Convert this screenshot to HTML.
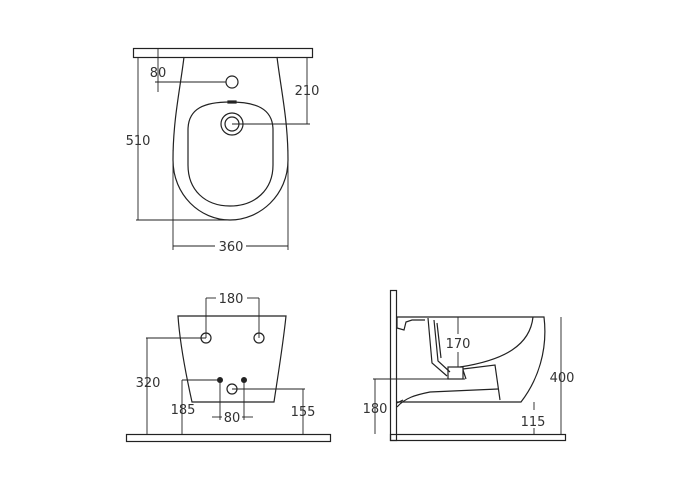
<!DOCTYPE html>
<html><head><style>
html,body{margin:0;padding:0;background:#fff;}
svg{display:block;}
text{font-family:"DejaVu Sans","Liberation Sans",sans-serif;font-size:13px;fill:#333;}
</style></head><body>
<svg width="700" height="500" viewBox="0 0 700 500" xmlns="http://www.w3.org/2000/svg">
<g fill="none" stroke="#222" stroke-width="1.2">
<!-- TOP VIEW -->
<rect x="133.5" y="48.5" width="179" height="9"/>
<path d="M184,57 C180,90 173,120 173,160 C173,195 200,220 230,220 C260,220 288,195 288,160 C288,120 281,90 277,57"/>
<path d="M188,130 C188,108 205,102 230,102 C255,102 273,108 273,130 L273,165 C273,190 255,206 230,206 C205,206 188,190 188,165 Z"/>
<circle cx="232" cy="82" r="6"/>
<circle cx="232" cy="124" r="11"/>
<circle cx="232" cy="124" r="7"/>
<rect x="228" y="101" width="8" height="2"/>
<g stroke-width="0.9">
<line x1="138" y1="57" x2="138" y2="220"/>
<line x1="136" y1="220" x2="232" y2="220"/>
<line x1="158" y1="48" x2="158" y2="92"/>
<line x1="155" y1="82" x2="226" y2="82"/>
<line x1="307" y1="57" x2="307" y2="124"/>
<line x1="232" y1="124" x2="310" y2="124"/>
<line x1="173" y1="150" x2="173" y2="250"/>
<line x1="288" y1="150" x2="288" y2="250"/>
<line x1="173" y1="246" x2="215" y2="246"/>
<line x1="246" y1="246" x2="288" y2="246"/>
</g>
<!-- FRONT VIEW -->
<rect x="126.5" y="434.5" width="204" height="7"/>
<path d="M178,316 L286,316 C283,345 278,375 274,402 L192,402 C186,375 180,345 178,316 Z"/>
<circle cx="206" cy="338" r="5"/>
<circle cx="259" cy="338" r="5"/>
<circle cx="232" cy="389" r="5"/>
<g stroke-width="0.9">
<line x1="206" y1="298" x2="206" y2="338"/>
<line x1="259" y1="298" x2="259" y2="338"/>
<line x1="206" y1="298" x2="216" y2="298"/>
<line x1="247" y1="298" x2="259" y2="298"/>
<line x1="147" y1="338" x2="147" y2="434"/>
<line x1="146" y1="338" x2="206" y2="338"/>
<line x1="182" y1="380" x2="182" y2="434"/>
<line x1="182" y1="380" x2="220" y2="380"/>
<line x1="220" y1="380" x2="220" y2="420"/>
<line x1="244" y1="380" x2="244" y2="420"/>
<line x1="212" y1="417" x2="222" y2="417"/>
<line x1="242" y1="417" x2="253" y2="417"/>
<line x1="303" y1="389" x2="303" y2="434"/>
<line x1="232" y1="389" x2="305" y2="389"/>
</g>
<!-- SIDE VIEW -->
<rect x="390.5" y="290.5" width="6" height="150"/>
<rect x="390.5" y="434.5" width="175" height="6"/>
<path d="M397,317 L544,317 C548,350 538,380 521,402 L397,402"/>
<path d="M533,317 C530,345 505,360 460,367"/>
<path d="M397,317 L397,328 L404,330 L406,322 L412,320 L425,320"/>
<path d="M428,318 L432,363 L447,376 M434,320 L438,361 L450,372 M437,323 L441,358"/>
<rect x="448" y="367" width="15" height="12"/>
<path d="M463,370 L466,379 M463,369 L495,365 L500,400"/>
<path d="M397,407 C405,398 415,395 430,392 L498,389"/>
<path d="M397,403 L403,400"/>
<g stroke-width="0.9">
<line x1="561" y1="317" x2="561" y2="434"/>
<line x1="458" y1="317" x2="458" y2="334"/>
<line x1="458" y1="352" x2="458" y2="367"/>
<line x1="375" y1="379" x2="375" y2="434"/>
<line x1="373" y1="379" x2="465" y2="379"/>
<line x1="534" y1="402" x2="534" y2="410"/>
<line x1="534" y1="428" x2="534" y2="434"/>
</g>
</g>
<circle cx="220" cy="380" r="3" fill="#222"/>
<circle cx="244" cy="380" r="3" fill="#222"/>
<g text-anchor="middle">
<text x="158" y="77">80</text>
<text x="138" y="145">510</text>
<text x="307" y="95">210</text>
<text x="231" y="251">360</text>
<text x="231" y="303">180</text>
<text x="148" y="387">320</text>
<text x="183" y="414">185</text>
<text x="232" y="422">80</text>
<text x="303" y="416">155</text>
<text x="458" y="348">170</text>
<text x="562" y="382">400</text>
<text x="375" y="413">180</text>
<text x="533" y="426">115</text>
</g>
</svg>
</body></html>
